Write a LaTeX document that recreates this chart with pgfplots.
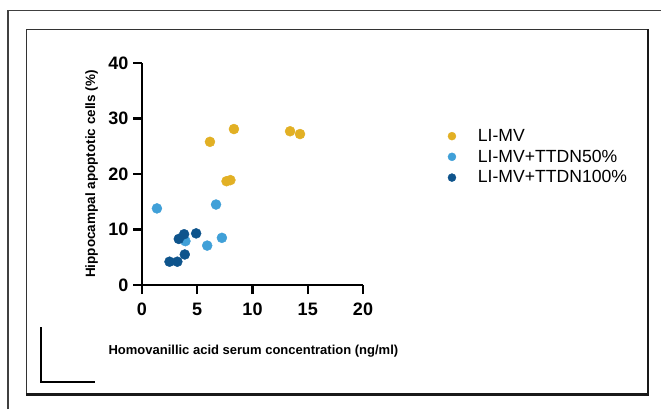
\documentclass[border=0pt]{standalone}
\usepackage{fontspec}
\setmainfont{Liberation Sans}
\usepackage{pgfplots}
\pgfplotsset{compat=1.18}
\definecolor{cgold}{RGB}{226,176,36}
\definecolor{clight}{RGB}{64,160,216}
\definecolor{cdark}{RGB}{14,84,140}
\begin{document}
\begin{tikzpicture}[x=1bp,y=1bp]
\useasboundingbox (0,0) rectangle (661,409);
\fill[white] (0,0) rectangle (661,409);
\draw[line width=1.2bp, black!75] (8,0) -- (8,398.5) -- (661,398.5);
\draw[line width=1.3bp, black!80] (26.3,14.6) -- (26.3,379.7) -- (648,379.7);
\draw[line width=2.8bp, black!90] (648,379.7) -- (648,14.6) -- (26.3,14.6);
\draw[line width=2.3bp] (40.7,81.7) -- (40.7,27.3) -- (95,27.3);
\begin{axis}[
  at={(142bp,124bp)}, anchor=south west,
  scale only axis, width=221bp, height=222bp,
  xmin=0, xmax=20, ymin=0, ymax=40,
  axis lines=left, axis line style={-, line width=2.4bp, black},
  xtick={0,5,10,15,20}, ytick={0,10,20,30,40},
  tick align=outside, major tick length=9bp,
  tick style={line width=2.2bp, black},
  tick label style={font=\fontsize{18bp}{20bp}\selectfont\bfseries, inner sep=1.5bp},
  xticklabel style={yshift=-7bp},
  yticklabel style={xshift=-3bp},
  /pgf/number format/assume math mode=true,
  xlabel={Homovanillic acid serum concentration (ng/ml)},
  ylabel={Hippocampal apoptotic cells (\%)},
  xlabel style={font=\fontsize{13bp}{15bp}\selectfont\bfseries, at={(axis description cs:0.504,-0.297)}, anchor=center},
  ylabel style={font=\fontsize{13.5bp}{15bp}\selectfont\bfseries, at={(axis description cs:-0.228,0.5)}, anchor=center},
  clip=false,
  legend style={at={(axis description cs:1.37,0.72)}, anchor=north west, draw=none, fill=none,
    font=\fontsize{17.6bp}{20bp}\selectfont, row sep=3bp, column sep=20bp},
  legend cell align=left,
  legend image code/.code={\draw[#1, mark size=4bp] plot coordinates {(0bp,0bp)};},
]
\addplot[only marks, mark=*, mark size=5bp, color=cgold, mark options={draw=none, fill=cgold}] coordinates {
(6.15,25.8) (8.32,28.1) (13.4,27.7) (14.3,27.2) (7.65,18.7) (8.0,18.9)
};
\addlegendentry{LI-MV}
\addplot[only marks, mark=*, mark size=5bp, color=clight, mark options={draw=none, fill=clight}] coordinates {
(1.35,13.8) (6.7,14.5) (5.9,7.1) (7.23,8.5) (3.93,7.9)
};
\addlegendentry{LI-MV+TTDN50\%}
\addplot[only marks, mark=*, mark size=5bp, color=cdark, mark options={draw=none, fill=cdark}] coordinates {
(2.49,4.2) (3.2,4.2) (3.33,8.3) (3.81,9.15) (3.87,5.5) (4.9,9.3)
};
\addlegendentry{LI-MV+TTDN100\%}
\end{axis}
\end{tikzpicture}
\end{document}
